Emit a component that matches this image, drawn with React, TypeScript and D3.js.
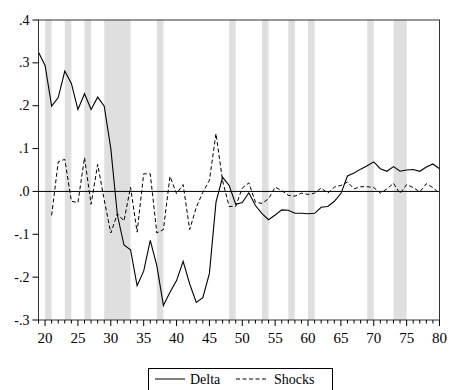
import React from "react";
import * as d3 from "d3";

const deltaStart = 19;
const deltaValues = [
  0.325, 0.294, 0.199, 0.219, 0.281, 0.252, 0.191, 0.228, 0.191, 0.22,
  0.199, 0.1, -0.055, -0.125, -0.136, -0.22, -0.186, -0.114, -0.173, -0.266,
  -0.235, -0.208, -0.163, -0.216, -0.259, -0.248, -0.191, -0.025, 0.033, 0.014,
  -0.03, -0.026, -0.003, -0.033, -0.052, -0.066, -0.055, -0.043, -0.044, -0.051,
  -0.051, -0.052, -0.051, -0.037, -0.035, -0.023, -0.005, 0.036, 0.043, 0.052,
  0.06, 0.069, 0.053, 0.047, 0.058, 0.047, 0.05, 0.051, 0.047, 0.057,
  0.064, 0.053,
];
const shocksStart = 21;
const shocksValues = [
  -0.056, 0.069, 0.075, -0.023, -0.026, 0.079, -0.03, 0.063, -0.02, -0.097,
  -0.052, -0.069, 0.01, -0.095, 0.041, 0.041, -0.097, -0.089, 0.035, -0.005,
  0.016, -0.089, -0.037, -0.002, 0.026, 0.135, 0.025, -0.035, -0.035, 0.008,
  0.02, -0.025, -0.028, -0.017, 0.01, 0.002, -0.009, -0.011, -0.004, -0.007,
  -0.004, 0.008, -0.004, 0.01, 0.014, 0.022, 0.006, 0.011, 0.011, 0.009,
  -0.004, 0.006, 0.019, -0.005, 0.016, 0.009, -0.001, 0.018, 0.009, -0.005,
];
const shadedBands: [number, number][] = [
  [20, 21], [23, 24], [26, 27], [29, 33], [37, 38], [48, 49],
  [53, 54], [57, 58], [60, 61], [69, 70], [73, 75],
];
const xTickLabels = [20, 25, 30, 35, 40, 45, 50, 55, 60, 65, 70, 75, 80];
const yTickValues = [0.4, 0.3, 0.2, 0.1, 0.0, -0.1, -0.2, -0.3];
const yTickLabels = [".4", ".3", ".2", ".1", ".0", "-.1", "-.2", "-.3"];
const seriesNames = ["Delta", "Shocks"];

export default function App() {
  const W = 451, H = 390;
  const left = 38.5, right = 439.5, top = 20, bottom = 320;
  const x = d3.scaleLinear().domain([19, 80]).range([left, right]);
  const y = d3.scaleLinear().domain([-0.3, 0.4]).range([bottom, top]);
  const deltaPts = deltaValues.map((v, i) => [deltaStart + i, v] as [number, number]);
  const shockPts = shocksValues.map((v, i) => [shocksStart + i, v] as [number, number]);
  const line = d3.line<[number, number]>().x((d) => x(d[0])).y((d) => y(d[1]));
  const minor = d3.range(19, 81);
  const textStyle = { fontFamily: "Liberation Serif, Times New Roman, serif" };
  return (
    <svg width={W} height={H} style={{ position: "absolute", left: 0, top: 0, background: "#fff" }}>
      <rect x={0} y={0} width={W} height={H} fill="#fff" />
      {shadedBands.map(([a, b], i) => (
        <rect key={i} x={x(a)} y={top} width={x(b) - x(a)} height={bottom - top} fill="#dfdfdf" />
      ))}
      <line x1={left} x2={right} y1={y(0)} y2={y(0)} stroke="#000" strokeWidth={1} />
      <path d={line(shockPts) || ""} fill="none" stroke="#000" strokeWidth={1} strokeDasharray="4,2.5" />
      <path d={line(deltaPts) || ""} fill="none" stroke="#000" strokeWidth={1.1} />
      <rect x={left} y={top} width={right - left} height={bottom - top} fill="none" stroke="#333" strokeWidth={1} />
      {minor.map((t) => (
        <line key={t} x1={x(t)} x2={x(t)} y1={bottom} y2={bottom + (t % 5 === 0 ? 6 : 3.5)} stroke="#000" strokeWidth={1} />
      ))}
      {xTickLabels.map((t) => (
        <text key={t} x={x(t)} y={bottom + 23} textAnchor="middle" style={textStyle} fontSize={15} fill="#000">
          {t}
        </text>
      ))}
      {yTickValues.map((t, i) => (
        <g key={i}>
          <line x1={left - 6} x2={left} y1={y(t)} y2={y(t)} stroke="#000" strokeWidth={1} />
          <text x={left - 9} y={y(t) + 4.5} textAnchor="end" style={textStyle} fontSize={14} fill="#000">
            {yTickLabels[i]}
          </text>
        </g>
      ))}
      <rect x={148.5} y={368.5} width={184} height={40} fill="#fff" stroke="#000" strokeWidth={1} />
      <line x1={155} x2={185} y1={379} y2={379} stroke="#000" strokeWidth={1} />
      <text x={190} y={383.5} style={textStyle} fontSize={14} fill="#000">{seriesNames[0]}</text>
      <line x1={236} x2={266} y1={379} y2={379} stroke="#000" strokeWidth={1} strokeDasharray="4,2.5" />
      <text x={274} y={383.5} style={textStyle} fontSize={14} fill="#000">{seriesNames[1]}</text>
    </svg>
  );
}
